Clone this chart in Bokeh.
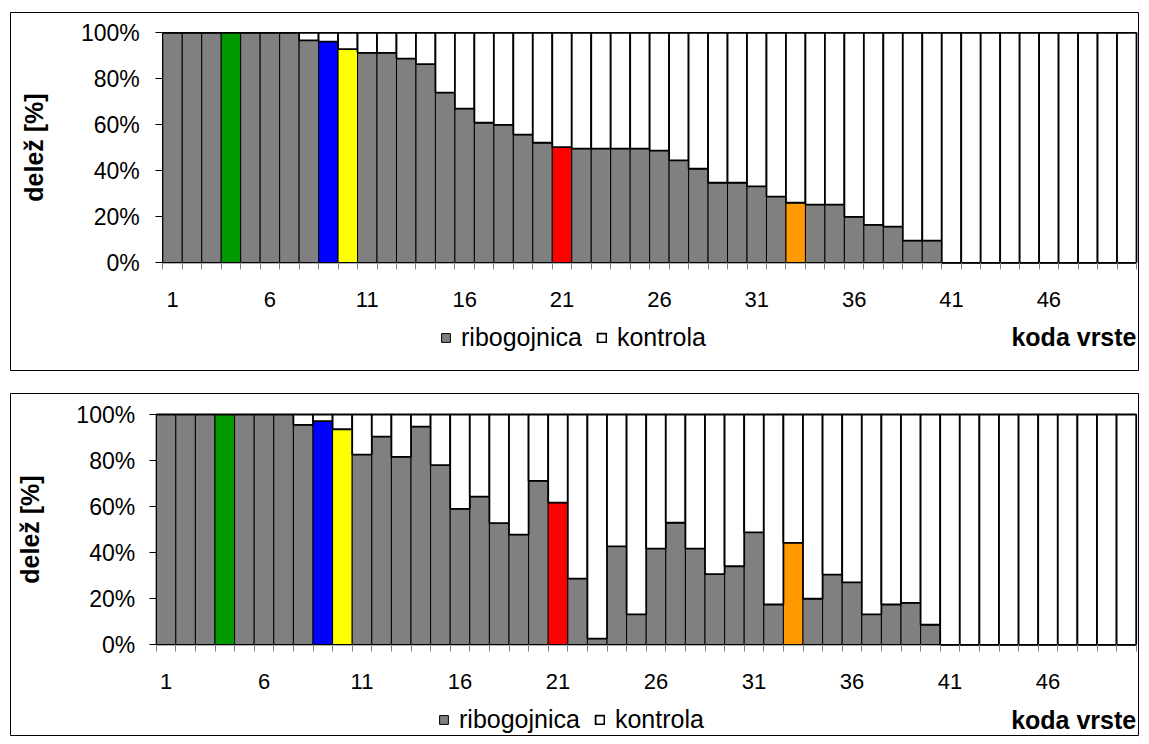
from bokeh.plotting import figure
from bokeh.models import (ColumnDataSource, Range1d, FixedTicker, PrintfTickFormatter,
                          Legend, LegendItem, Label)
from bokeh.layouts import column
from bokeh.transform import stack
from bokeh.embed import file_html
from bokeh.resources import INLINE

# ---------------- data ----------------
codes = list(range(1, 51))
tick_codes = [1, 6, 11, 16, 21, 26, 31, 36, 41, 46]
y_ticks = [0, 20, 40, 60, 80, 100]

ribogojnica_top = [100, 100, 100, 100, 100, 100, 100, 96.7, 96.2, 92.9,
                   91.3, 91.3, 88.8, 86.4, 74.0, 67.0, 60.9, 60.0, 55.7, 52.2,
                   50.3, 49.6, 49.6, 49.6, 49.6, 48.8, 44.5, 40.9, 34.8, 34.8,
                   33.2, 28.8, 26.1, 25.3, 25.3, 20.0, 16.5, 15.7, 9.6, 9.6,
                   0, 0, 0, 0, 0, 0, 0, 0, 0, 0]

ribogojnica_bottom = [100, 100, 100, 100, 100, 100, 100, 95.5, 97.1, 93.6,
                      82.6, 90.4, 81.6, 94.7, 78.0, 59.0, 64.3, 52.8, 47.8, 71.2,
                      61.7, 28.7, 2.7, 42.7, 13.2, 41.8, 53.0, 41.8, 30.7, 34.1,
                      48.8, 17.5, 44.3, 20.0, 30.5, 27.1, 13.2, 17.5, 18.2, 8.7,
                      0, 0, 0, 0, 0, 0, 0, 0, 0, 0]

highlight_codes = [4, 9, 10, 21, 33]
highlight_colors = ["#009900", "#0000FF", "#FFFF00", "#FF0000", "#FF9900"]
base_color = "#808080"

FONT = "Liberation Sans"
FIG_W = 1129


def build(ribo, fig_h, plot_left, plot_right, plot_top, plot_bottom,
          ytick_standoff, ylabel_standoff, legend_x, legend_y, koda_px):
    """plot_* are pixel positions of the bar area inside the figure box."""
    kontrola = [round(100 - v, 1) for v in ribo]
    hl = dict(zip(highlight_codes, highlight_colors))
    colors = [hl.get(c, base_color) for c in codes]
    src = ColumnDataSource(dict(x=codes, ribo=ribo, kontrola=kontrola, color=colors))

    x_lo, x_hi = codes[0] - 0.5, codes[-1] + 0.5
    y_lo, y_hi = y_ticks[0], y_ticks[-1]
    px_x = (plot_right - plot_left) / (x_hi - x_lo)
    px_y = (plot_bottom - plot_top) / (y_hi - y_lo)
    xr = Range1d(x_lo - plot_left / px_x, x_hi + (FIG_W - plot_right) / px_x)
    yr = Range1d(y_lo - (fig_h - plot_bottom) / px_y, y_hi + plot_top / px_y)

    p = figure(width=FIG_W, height=fig_h, x_range=xr, y_range=yr,
               output_backend="svg", toolbar_location=None)
    p.min_border = 0
    p.outline_line_color = "black"
    p.outline_line_width = 1
    p.grid.visible = False
    p.background_fill_color = "white"
    p.border_fill_color = "white"

    r1 = p.vbar(x="x", width=1, bottom=0, top="ribo", fill_color="color",
                line_color="black", line_width=1, source=src)
    r2 = p.vbar(x="x", width=1, bottom="ribo", top=stack("ribo", "kontrola"),
                fill_color="white", line_color="black", line_width=1.8, source=src)

    xa = p.xaxis[0]
    xa.fixed_location = y_lo
    xa.bounds = (x_lo, x_hi)
    xa.ticker = FixedTicker(ticks=tick_codes,
                            minor_ticks=[c - 0.5 for c in codes] + [x_hi])
    xa.major_tick_out = 0
    xa.major_tick_in = 0
    xa.minor_tick_out = 7
    xa.minor_tick_in = 0
    xa.minor_tick_line_color = "#808080"
    xa.axis_line_color = "black"
    xa.major_label_text_font = FONT
    xa.major_label_text_font_size = "22px"
    xa.major_label_text_color = "black"
    xa.major_label_standoff = 22

    ya = p.yaxis[0]
    ya.fixed_location = x_lo
    ya.bounds = (y_lo, y_hi)
    ya.ticker = FixedTicker(ticks=y_ticks)
    ya.formatter = PrintfTickFormatter(format="%d%%")
    ya.major_tick_out = 7
    ya.major_tick_in = 0
    ya.minor_tick_out = 0
    ya.minor_tick_in = 0
    ya.axis_line_color = "black"
    ya.major_tick_line_color = "black"
    ya.major_label_text_font = FONT
    ya.major_label_text_font_size = "23px"
    ya.major_label_text_color = "black"
    ya.major_label_standoff = ytick_standoff
    ya.axis_label = "delež [%]"
    ya.axis_label_text_font = FONT
    ya.axis_label_text_font_size = "25px"
    ya.axis_label_text_font_style = "bold"
    ya.axis_label_text_color = "black"
    ya.axis_label_standoff = ylabel_standoff

    legend = Legend(items=[LegendItem(label="ribogojnica", renderers=[r1], index=0),
                           LegendItem(label="kontrola", renderers=[r2], index=0)],
                    location=(legend_x, legend_y), orientation="horizontal",
                    glyph_width=11, glyph_height=11, label_standoff=10, spacing=14,
                    padding=0, margin=0, border_line_color=None,
                    background_fill_alpha=0,
                    label_text_font=FONT, label_text_font_size="25px",
                    label_text_color="black")
    p.add_layout(legend, "center")

    p.add_layout(Label(x=x_hi, y=y_lo - koda_px / px_y, text="koda vrste",
                       text_align="right", text_baseline="middle",
                       text_font=FONT, text_font_size="25px",
                       text_font_style="bold", text_color="black"))
    return p


# top chart box: page x 10..1139, y 12..371 ; bars page x 162.3..1136, y 32.3..262.3
p1 = build(ribogojnica_top, 359, 152.3, 1126, 20.3, 250.3, 16, 30, 430, 19, 74.5)
# bottom chart box: page y 393..736 ; bars page x 155.7..1135.7, y 414..644.3
p2 = build(ribogojnica_bottom, 343, 145.7, 1125.7, 21, 251.3, 14, 30, 428, 2, 75.5)
p1.margin = (12, 0, 0, 10)
p2.margin = (22, 0, 0, 10)

layout = column(p1, p2)

open("out.html", "w").write(file_html(layout, INLINE))
